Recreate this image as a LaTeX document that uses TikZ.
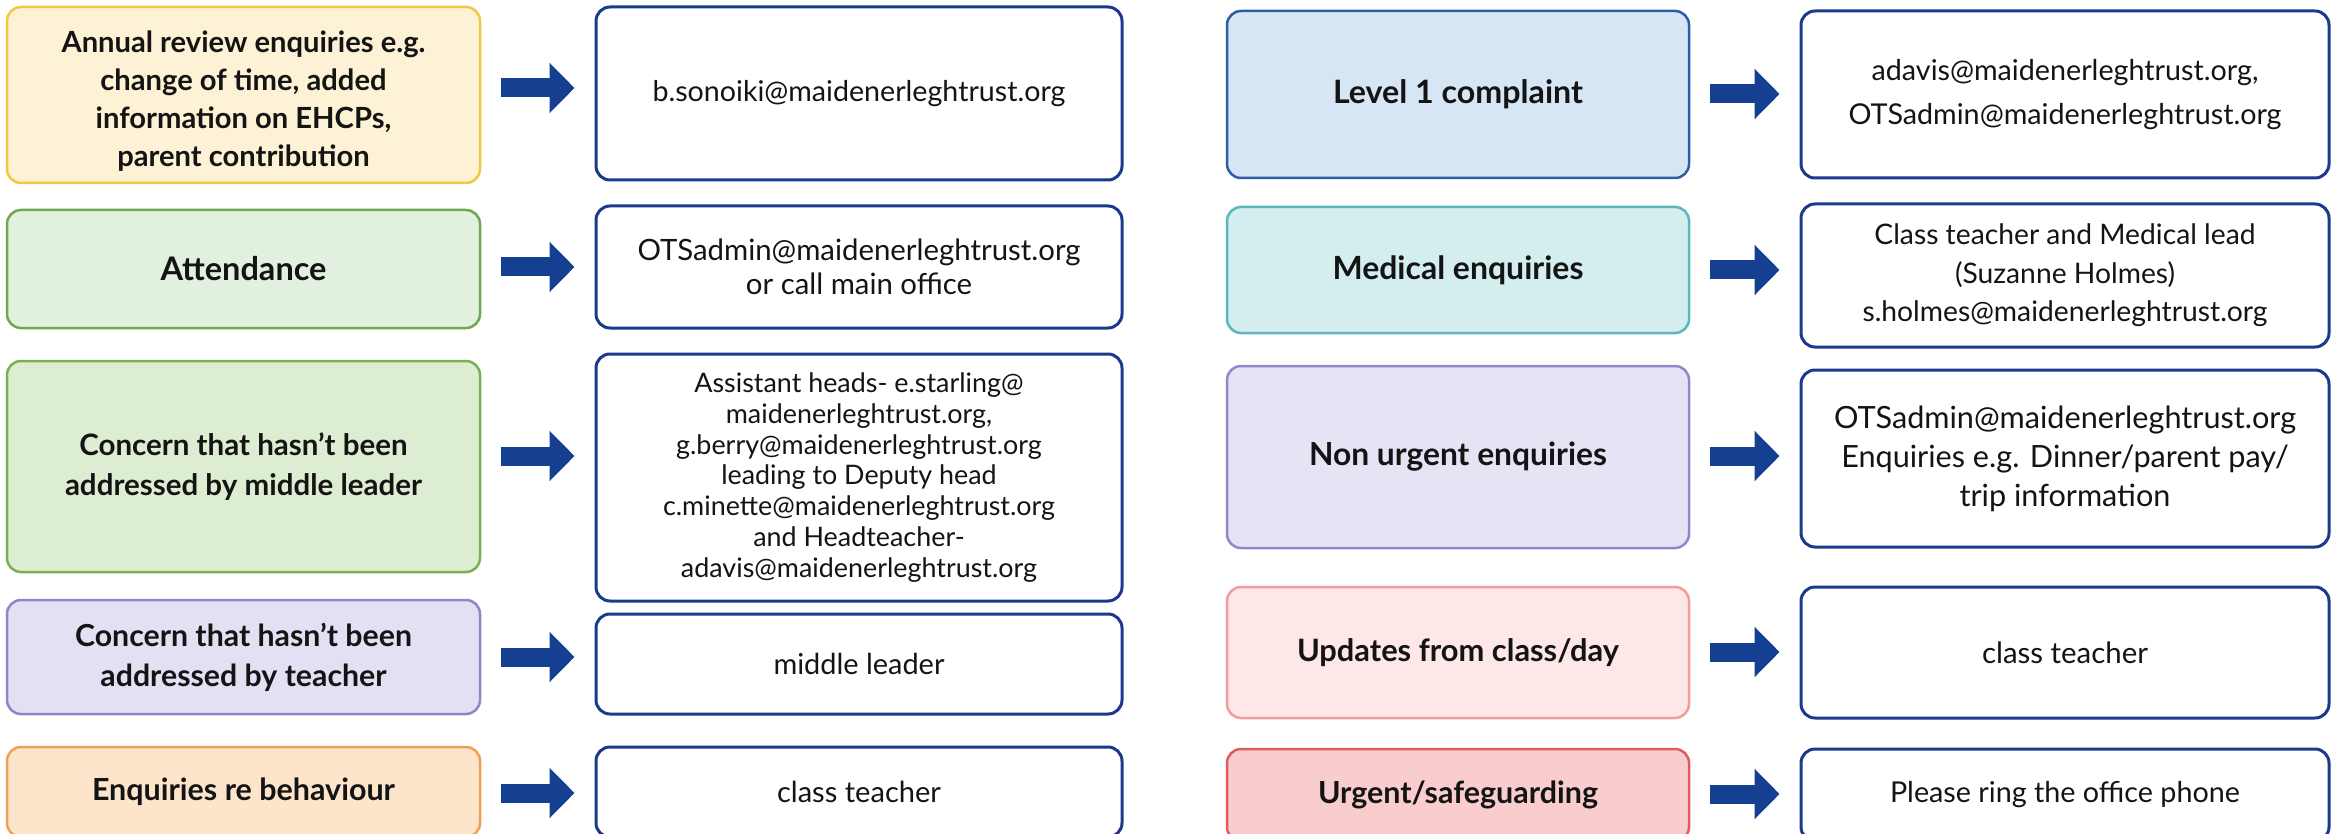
\documentclass[tikz,border=0pt]{standalone}
\usepackage{fontspec}
\setmainfont{Lato}
\usetikzlibrary{arrows.meta}
\definecolor{navy}{HTML}{1B3A8C}
\definecolor{arrowblue}{HTML}{153F91}
\definecolor{ink}{HTML}{141414}
\definecolor{yfill}{HTML}{FDF2D6}\definecolor{ydraw}{HTML}{F2C744}
\definecolor{g1fill}{HTML}{E2F0E0}\definecolor{g1draw}{HTML}{6FA84E}
\definecolor{g2fill}{HTML}{DDEDD2}\definecolor{g2draw}{HTML}{7BAF52}
\definecolor{pfill}{HTML}{E3E0F3}\definecolor{pdraw}{HTML}{8F86C9}
\definecolor{ofill}{HTML}{FDE5CC}\definecolor{odraw}{HTML}{F0A055}
\definecolor{bfill}{HTML}{D6E6F4}\definecolor{bdraw}{HTML}{2D5DA6}
\definecolor{tfill}{HTML}{D4EDEF}\definecolor{tdraw}{HTML}{5CB7BD}
\definecolor{p2fill}{HTML}{E5E3F4}\definecolor{p2draw}{HTML}{9088CB}
\definecolor{kfill}{HTML}{FDE7E7}\definecolor{kdraw}{HTML}{F29C9C}
\definecolor{rfill}{HTML}{F9CDCD}\definecolor{rdraw}{HTML}{E05C5C}
\newlength\fitlen
\newcommand\calcfs[4]{\settowidth\fitlen{#2\fontsize{20}{24}\selectfont #3}\pgfmathsetmacro#1{20*#4/\fitlen}}
\tikzset{
  cat/.style={rounded corners=14pt, line width=2.5pt, minimum width=473pt, align=center, text=ink, inner sep=0pt},
  catr/.style={cat, minimum width=462pt},
  ans/.style={rounded corners=14pt, line width=3pt, draw=navy, fill=white, minimum width=526pt, align=center, text=ink, inner sep=0pt},
  ansr/.style={ans, minimum width=528pt},
  blockarrow/.style={draw=arrowblue, line width=19pt, -{Triangle[width=49pt,length=25pt]}, shorten <=20pt, shorten >=20pt}
}
\begin{document}
\calcfs\fcA{\bfseries}{Annual review enquiries e.g.}{364}%
\calcfs\fcB{\bfseries}{Attendance}{166}%
\calcfs\fcC{\bfseries}{addressed by middle leader}{357}%
\calcfs\fcD{\bfseries}{Concern that hasn’t been}{337}%
\calcfs\fcE{\bfseries}{Enquiries re behaviour}{303}%
\calcfs\fdA{\bfseries}{Level 1 complaint}{250}%
\calcfs\fdB{\bfseries}{Medical enquiries}{251}%
\calcfs\fdC{\bfseries}{Non urgent enquiries}{298}%
\calcfs\fdD{\bfseries}{Updates from class/day}{322}%
\calcfs\fdE{\bfseries}{Urgent/safeguarding}{280}%
\calcfs\faA{}{b.sonoiki@maidenerleghtrust.org}{413}%
\calcfs\faB{}{OTSadmin@maidenerleghtrust.org}{443}%
\calcfs\faC{}{c.minette@maidenerleghtrust.org}{392}%
\calcfs\faD{}{middle leader}{171}%
\calcfs\faE{}{class teacher}{164}%
\calcfs\fbA{}{OTSadmin@maidenerleghtrust.org}{433}%
\calcfs\fbB{}{s.holmes@maidenerleghtrust.org}{405}%
\calcfs\fbC{}{OTSadmin@maidenerleghtrust.org}{462}%
\calcfs\fbD{}{class teacher}{166}%
\calcfs\fbE{}{Please ring the office phone}{350}%
\begin{tikzpicture}[x=1pt,y=-1pt]
\useasboundingbox (0,0) rectangle (2331,834);
\clip (0,0) rectangle (2331,834);
\fill[white] (0,0) rectangle (2331,834);

% left column
\node[cat, fill=yfill, draw=ydraw, minimum height=176pt, font=\bfseries\fontsize{\fcA}{38}\selectfont] (c1) at (243.5,95) {\rule{0pt}{34pt}Annual review enquiries e.g.\\change of time, added\\information on EHCPs,\\parent contribution};
\node[ans, minimum height=173pt, font=\fontsize{\faA}{36}\selectfont] (a1) at (859,93.5) {b.sonoiki@maidenerleghtrust.org};

\node[cat, fill=g1fill, draw=g1draw, minimum height=118pt, font=\bfseries\fontsize{\fcB}{40}\selectfont] (c2) at (243.5,269) {Attendance};
\node[ans, minimum height=122pt, font=\fontsize{\faB}{34}\selectfont] (a2) at (859,267) {OTSadmin@maidenerleghtrust.org\\or call main office};

\node[cat, fill=g2fill, draw=g2draw, minimum height=211pt, font=\bfseries\fontsize{\fcC}{40}\selectfont] (c3) at (243.5,466.5) {Concern that hasn’t been\\addressed by middle leader};
\node[ans, minimum height=247pt, font=\fontsize{\faC}{30.8}\selectfont] (a3) at (859,477.5) {Assistant heads- e.starling@\\maidenerleghtrust.org,\\g.berry@maidenerleghtrust.org\\leading to Deputy head\\c.minette@maidenerleghtrust.org\\and Headteacher-\\adavis@maidenerleghtrust.org};

\node[cat, fill=pfill, draw=pdraw, minimum height=114pt, font=\bfseries\fontsize{\fcD}{40}\selectfont] (c4) at (243.5,657) {Concern that hasn’t been\\addressed by teacher};
\node[ans, minimum height=100pt, font=\fontsize{\faD}{36}\selectfont] (a4) at (859,664) {middle leader};

\node[cat, fill=ofill, draw=odraw, minimum height=90pt, font=\bfseries\fontsize{\fcE}{40}\selectfont] (c5) at (243.5,792) {Enquiries re behaviour};
\node[ans, minimum height=90pt, font=\fontsize{\faE}{36}\selectfont] (a5) at (859,792) {class teacher};

% right column
\node[catr, fill=bfill, draw=bdraw, minimum height=167pt, font=\bfseries\fontsize{\fdA}{40}\selectfont] (d1) at (1458,94.5) {Level 1 complaint};
\node[ansr, minimum height=167pt, font=\fontsize{\fbA}{44}\selectfont] (b1) at (2065,94.5) {adavis@maidenerleghtrust.org,\\OTSadmin@maidenerleghtrust.org};

\node[catr, fill=tfill, draw=tdraw, minimum height=126pt, font=\bfseries\fontsize{\fdB}{40}\selectfont] (d2) at (1458,270) {Medical enquiries};
\node[ansr, minimum height=143pt, font=\fontsize{\fbB}{38.5}\selectfont] (b2) at (2065,275.5) {Class teacher and Medical lead\\(Suzanne Holmes)\\s.holmes@maidenerleghtrust.org};

\node[catr, fill=p2fill, draw=p2draw, minimum height=182pt, font=\bfseries\fontsize{\fdC}{40}\selectfont] (d3) at (1458,457) {Non urgent enquiries};
\node[ansr, minimum height=177pt, font=\fontsize{\fbC}{39}\selectfont] (b3) at (2065,458.5) {OTSadmin@maidenerleghtrust.org\\Enquiries e.g. Dinner/parent pay/\\trip information};

\node[catr, fill=kfill, draw=kdraw, minimum height=131pt, font=\bfseries\fontsize{\fdD}{40}\selectfont] (d4) at (1458,652.5) {Updates from class/day};
\node[ansr, minimum height=131pt, font=\fontsize{\fbD}{36}\selectfont] (b4) at (2065,652.5) {class teacher};

\node[catr, fill=rfill, draw=rdraw, minimum height=92pt, font=\bfseries\fontsize{\fdE}{40}\selectfont] (d5) at (1458,795) {Urgent/safeguarding};
\node[ansr, minimum height=92pt, font=\fontsize{\fbE}{36}\selectfont] (b5) at (2065,795) {Please ring the office phone};

% arrow rows
\coordinate (l1) at (0,88);
\coordinate (l2) at (0,267);
\coordinate (l3) at (0,456);
\coordinate (l4) at (0,657);
\coordinate (l5) at (0,793);
\coordinate (r1) at (0,94);
\coordinate (r2) at (0,270);
\coordinate (r3) at (0,456);
\coordinate (r4) at (0,652);
\coordinate (r5) at (0,794);

\draw[blockarrow] (c1.east |- l1) -- (a1.west |- l1);
\draw[blockarrow] (c2.east |- l2) -- (a2.west |- l2);
\draw[blockarrow] (c3.east |- l3) -- (a3.west |- l3);
\draw[blockarrow] (c4.east |- l4) -- (a4.west |- l4);
\draw[blockarrow] (c5.east |- l5) -- (a5.west |- l5);
\draw[blockarrow] (d1.east |- r1) -- (b1.west |- r1);
\draw[blockarrow] (d2.east |- r2) -- (b2.west |- r2);
\draw[blockarrow] (d3.east |- r3) -- (b3.west |- r3);
\draw[blockarrow] (d4.east |- r4) -- (b4.west |- r4);
\draw[blockarrow] (d5.east |- r5) -- (b5.west |- r5);
\end{tikzpicture}
\end{document}
